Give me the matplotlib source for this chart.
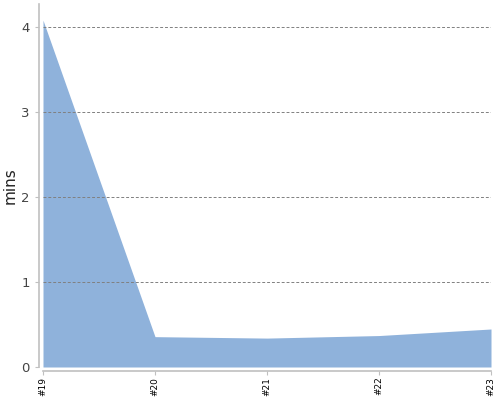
import matplotlib
matplotlib.use("Agg")
import matplotlib.pyplot as plt

# data
builds = ["#19", "#20", "#21", "#22", "#23"]
mins = [4.08, 0.357, 0.34, 0.37, 0.447]

FILL = "#8fb2db"
SPINE = "#c0c0c0"

fig = plt.figure(figsize=(5, 4), dpi=100)
ax = fig.add_axes([0.086, 0.0825, 0.896, 0.9075])

# spine placement first: set_position resets the tick objects
for s in ["top", "right"]:
    ax.spines[s].set_visible(False)
for s in ["left", "bottom"]:
    ax.spines[s].set_color(SPINE)
    ax.spines[s].set_linewidth(1.2)
    ax.spines[s].set_position(("outward", 3))

x = list(range(len(builds)))
ax.fill_between(x, mins, 0, color=FILL, linewidth=0, zorder=1)

ax.set_xlim(0, len(builds) - 1)
ax.set_ylim(0, 4.27)
ax.set_yticks([0, 1, 2, 3, 4])
ax.set_xticks(x)
ax.set_xticklabels(builds)

# dashed horizontal grid drawn over the area
for v in [1, 2, 3, 4]:
    ax.axhline(v, color="#808080", lw=0.7, ls=(0, (3, 2)), zorder=2)

ax.tick_params(axis="y", colors=SPINE, labelcolor="#444444", labelsize=9.5,
               length=3, width=0.8)
ax.tick_params(axis="x", colors=SPINE, labelcolor="black", labelsize=6.5,
               labelrotation=90, length=3, width=0.8, pad=1)

ax.set_ylabel("mins", fontsize=11, color="#222222", labelpad=3)

fig.savefig("out.png", dpi=100)
